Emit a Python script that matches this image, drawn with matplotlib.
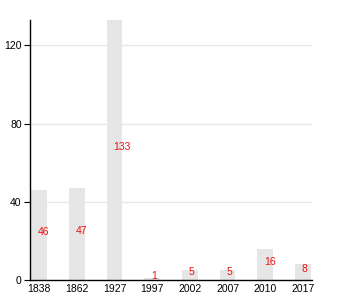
import matplotlib
matplotlib.use("Agg")
import matplotlib.pyplot as plt

plt.rcParams['font.family'] = ['Liberation Sans', 'DejaVu Sans']

categories = ["1838", "1862", "1927", "1997", "2002", "2007", "2010", "2017"]
values = [46, 47, 133, 1, 5, 5, 16, 8]
yticks = [0, 40, 80, 120]

fig = plt.figure(figsize=(3.5, 3.0), dpi=100)
ax = fig.add_axes([30/350, 20/300, 282/350, 260/300])

x = list(range(len(categories)))
ax.bar(x, values, width=0.42, color="#e6e6e6", zorder=2)
for xi, v in zip(x, values):
    ax.annotate(str(v), (xi, v / 2), xytext=(-1, 2), textcoords="offset points",
                ha="left", va="center", color="#ee1111", fontsize=7.5, zorder=3)

ax.set_xlim(-0.24, len(categories) - 1 + 0.24)
ax.set_ylim(0, 133)
ax.set_yticks(yticks)
ax.set_xticks(x)
ax.set_xticklabels(categories)
ax.yaxis.grid(True, color="#e8e8e8", linewidth=1, zorder=0)
ax.set_axisbelow(True)
for s in ["top", "right"]:
    ax.spines[s].set_visible(False)
ax.spines["left"].set_linewidth(1)
ax.spines["bottom"].set_linewidth(1)
ax.tick_params(axis="y", length=4, width=0.8, labelsize=7.5, pad=2)
ax.tick_params(axis="x", length=0, labelsize=7.5, pad=3)

fig.savefig("out.png", dpi=100)
